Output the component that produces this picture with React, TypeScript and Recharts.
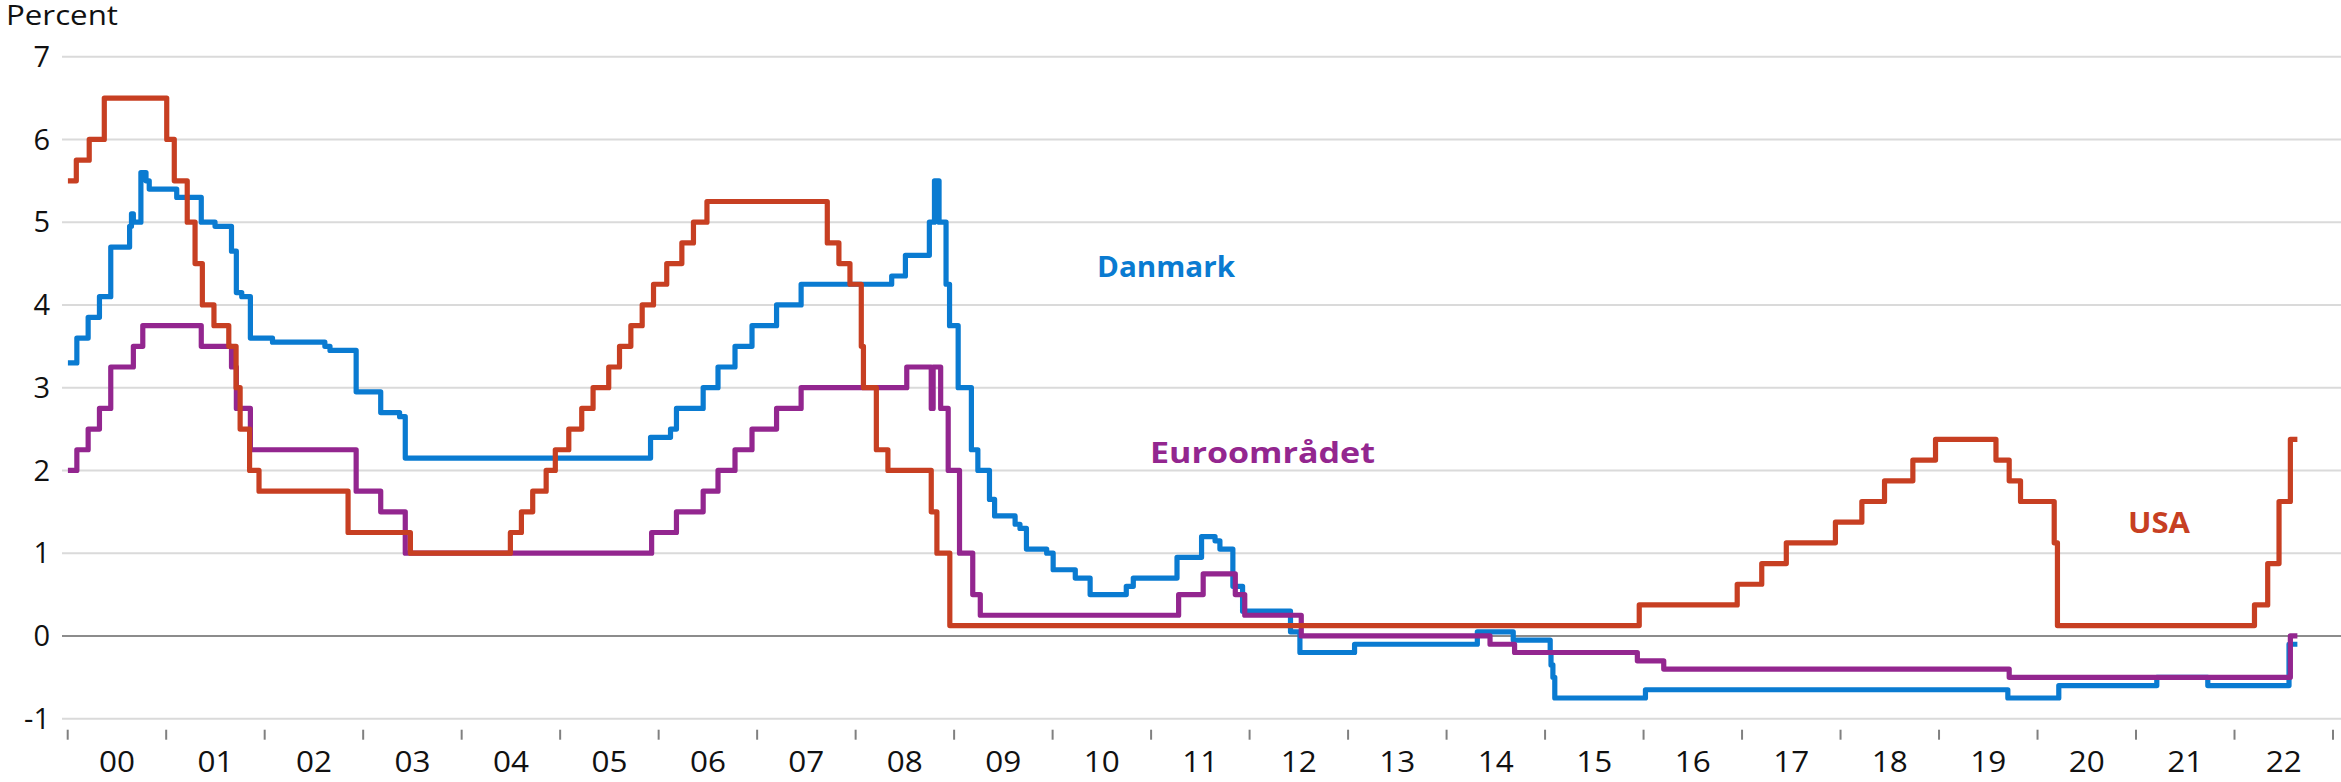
import React from "react";
import { LineChart, Line, XAxis, YAxis, CartesianGrid, ReferenceLine } from "recharts";

const FONT = "'Open Sans', 'Noto Sans', sans-serif";
const BLUE = "#0A7BD1";
const PURPLE = "#93268F";
const RED = "#C73F22";

const END_DATE = "2022-08-22";

const yearTicks = [
  2000, 2001, 2002, 2003, 2004, 2005, 2006, 2007, 2008, 2009, 2010, 2011,
  2012, 2013, 2014, 2015, 2016, 2017, 2018, 2019, 2020, 2021, 2022, 2023,
];
const yearLabels = [
  "00", "01", "02", "03", "04", "05", "06", "07", "08", "09", "10", "11",
  "12", "13", "14", "15", "16", "17", "18", "19", "20", "21", "22",
];
const percentTicks = [-1, 0, 1, 2, 3, 4, 5, 6, 7];

// rate changes: [date, rate in percent]
const danmark: [string, number][] = [
  ["2000-01-01", 3.3], ["2000-02-04", 3.6], ["2000-03-17", 3.85], ["2000-04-28", 4.1],
  ["2000-06-09", 4.7], ["2000-08-18", 4.95], ["2000-08-25", 5.1], ["2000-09-01", 5.0],
  ["2000-09-29", 5.6], ["2000-10-18", 5.5], ["2000-10-30", 5.4], ["2001-02-09", 5.3],
  ["2001-05-11", 5.0], ["2001-07-01", 4.95], ["2001-08-31", 4.65], ["2001-09-18", 4.15],
  ["2001-10-08", 4.1], ["2001-11-09", 3.6], ["2002-01-30", 3.55], ["2002-08-12", 3.5],
  ["2002-08-31", 3.45], ["2002-12-06", 2.95], ["2003-03-07", 2.7], ["2003-05-16", 2.65],
  ["2003-06-06", 2.15], ["2005-12-02", 2.4], ["2006-02-14", 2.5], ["2006-03-08", 2.75],
  ["2006-06-15", 3.0], ["2006-08-09", 3.25], ["2006-10-11", 3.5], ["2006-12-13", 3.75],
  ["2007-03-14", 4.0], ["2007-06-13", 4.25], ["2008-05-14", 4.35], ["2008-07-04", 4.6],
  ["2008-10-01", 5.0], ["2008-10-20", 5.5], ["2008-11-06", 5.0], ["2008-12-02", 4.25],
  ["2008-12-15", 3.75], ["2009-01-16", 3.0], ["2009-03-06", 2.25], ["2009-03-30", 2.0],
  ["2009-05-12", 1.65], ["2009-05-31", 1.45], ["2009-08-15", 1.35], ["2009-09-02", 1.3],
  ["2009-09-26", 1.05], ["2009-12-10", 1.0], ["2010-01-03", 0.8], ["2010-03-26", 0.7],
  ["2010-05-20", 0.5], ["2010-10-01", 0.6], ["2010-10-27", 0.7], ["2011-04-07", 0.95],
  ["2011-07-07", 1.2], ["2011-08-26", 1.15], ["2011-09-13", 1.05], ["2011-10-31", 0.6],
  ["2011-12-06", 0.3], ["2012-06-01", 0.05], ["2012-07-06", -0.2], ["2013-01-25", -0.1],
  ["2014-04-25", 0.05], ["2014-09-05", -0.05], ["2015-01-20", -0.2], ["2015-01-23", -0.35],
  ["2015-01-30", -0.5], ["2015-02-06", -0.75], ["2016-01-08", -0.65], ["2019-09-13", -0.75],
  ["2020-03-20", -0.6], ["2021-03-19", -0.5], ["2021-09-24", -0.6], ["2022-07-22", -0.1],
];

const euroomraadet: [string, number][] = [
  ["2000-01-01", 2.0], ["2000-02-04", 2.25], ["2000-03-17", 2.5], ["2000-04-28", 2.75],
  ["2000-06-09", 3.25], ["2000-09-01", 3.5], ["2000-10-06", 3.75], ["2001-05-11", 3.5],
  ["2001-08-31", 3.25], ["2001-09-18", 2.75], ["2001-11-09", 2.25], ["2002-12-06", 1.75],
  ["2003-03-07", 1.5], ["2003-06-06", 1.0], ["2005-12-06", 1.25], ["2006-03-08", 1.5],
  ["2006-06-15", 1.75], ["2006-08-09", 2.0], ["2006-10-11", 2.25], ["2006-12-13", 2.5],
  ["2007-03-14", 2.75], ["2007-06-13", 3.0], ["2008-07-09", 3.25], ["2008-10-08", 2.75],
  ["2008-10-15", 3.25], ["2008-11-12", 2.75], ["2008-12-10", 2.0], ["2009-01-21", 1.0],
  ["2009-03-11", 0.5], ["2009-04-08", 0.25], ["2011-04-13", 0.5], ["2011-07-13", 0.75],
  ["2011-11-09", 0.5], ["2011-12-14", 0.25], ["2012-07-11", 0.0], ["2014-06-11", -0.1],
  ["2014-09-10", -0.2], ["2015-12-09", -0.3], ["2016-03-16", -0.4], ["2019-09-18", -0.5],
  ["2022-07-27", 0.0],
];

const usa: [string, number][] = [
  ["2000-01-01", 5.5], ["2000-02-02", 5.75], ["2000-03-21", 6.0], ["2000-05-16", 6.5],
  ["2001-01-03", 6.0], ["2001-01-31", 5.5], ["2001-03-20", 5.0], ["2001-04-18", 4.5],
  ["2001-05-15", 4.0], ["2001-06-27", 3.75], ["2001-08-21", 3.5], ["2001-09-17", 3.0],
  ["2001-10-02", 2.5], ["2001-11-06", 2.0], ["2001-12-11", 1.75], ["2002-11-06", 1.25],
  ["2003-06-25", 1.0], ["2004-06-30", 1.25], ["2004-08-10", 1.5], ["2004-09-21", 1.75],
  ["2004-11-10", 2.0], ["2004-12-14", 2.25], ["2005-02-02", 2.5], ["2005-03-22", 2.75],
  ["2005-05-03", 3.0], ["2005-06-30", 3.25], ["2005-08-09", 3.5], ["2005-09-20", 3.75],
  ["2005-11-01", 4.0], ["2005-12-13", 4.25], ["2006-01-31", 4.5], ["2006-03-28", 4.75],
  ["2006-05-10", 5.0], ["2006-06-29", 5.25], ["2007-09-18", 4.75], ["2007-10-31", 4.5],
  ["2007-12-11", 4.25], ["2008-01-22", 3.5], ["2008-01-30", 3.0], ["2008-03-18", 2.25],
  ["2008-04-30", 2.0], ["2008-10-08", 1.5], ["2008-10-29", 1.0], ["2008-12-16", 0.125],
  ["2015-12-16", 0.375], ["2016-12-14", 0.625], ["2017-03-15", 0.875], ["2017-06-14", 1.125],
  ["2017-12-13", 1.375], ["2018-03-21", 1.625], ["2018-06-13", 1.875], ["2018-09-26", 2.125],
  ["2018-12-19", 2.375], ["2019-07-31", 2.125], ["2019-09-18", 1.875], ["2019-10-30", 1.625],
  ["2020-03-03", 1.125], ["2020-03-15", 0.125], ["2022-03-16", 0.375], ["2022-05-04", 0.875],
  ["2022-06-15", 1.625], ["2022-07-27", 2.375],
];

const toYear = (d: string) => {
  const [y, m, day] = d.split("-").map(Number);
  const start = Date.UTC(y, 0, 1);
  const next = Date.UTC(y + 1, 0, 1);
  return y + (Date.UTC(y, m - 1, day) - start) / (next - start);
};

const toSeries = (rows: [string, number][]) => {
  const pts = rows.map(([d, v]) => ({ t: toYear(d), v }));
  pts.push({ t: toYear(END_DATE), v: rows[rows.length - 1][1] });
  return pts;
};

const W = 2341;
const H = 782;
const PLOT_LEFT = 62;
const PAD_L = 5.7;
const PAD_R = 8;
const YEAR_PX = (W - PLOT_LEFT - PAD_L - PAD_R) / (yearTicks.length - 1);
const LINE_W = 5.2;

const XTick = (props: any) => {
  const { x, y, payload } = props;
  const i = yearTicks.indexOf(payload.value);
  return (
    <g>
      <line x1={x} x2={x} y1={y + 11} y2={y + 21} stroke="#808080" strokeWidth={2} />
      {i >= 0 && i < yearLabels.length && (
        <text
          x={x + YEAR_PX / 2}
          y={y + 42}
          textAnchor="middle"
          dominantBaseline="central"
          fontSize={29}
          fontFamily={FONT}
          fill="#111"
          textLength={36}
          lengthAdjust="spacingAndGlyphs"
        >
          {yearLabels[i]}
        </text>
      )}
    </g>
  );
};

export default function App() {
  const dk = toSeries(danmark);
  const eu = toSeries(euroomraadet);
  const us = toSeries(usa);
  return (
    <div style={{ position: "absolute", left: 0, top: 0, width: W, height: H, background: "#fff" }}>
      <LineChart width={W} height={H} margin={{ top: 56.7, right: 0, bottom: 0, left: 0 }}>
        <CartesianGrid horizontal vertical={false} stroke="#dadada" strokeWidth={2} />
        <XAxis
          type="number"
          dataKey="t"
          domain={[2000, 2023]}
          ticks={yearTicks}
          interval={0}
          padding={{ left: PAD_L, right: PAD_R }}
          height={63.3}
          axisLine={false}
          tickLine={false}
          tickSize={0}
          tickMargin={0}
          tick={(p: any) => <XTick {...p} />}
          allowDataOverflow
        />
        <YAxis
          type="number"
          domain={[-1, 7]}
          ticks={percentTicks}
          interval={0}
          width={PLOT_LEFT}
          axisLine={false}
          tickLine={false}
          tickSize={0}
          tickMargin={12}
          tick={{ fill: "#111", fontSize: 29, fontFamily: FONT }}
        />
        <ReferenceLine y={0} stroke="#8c8c8c" strokeWidth={2} />
        <Line data={dk} dataKey="v" type="stepAfter" stroke={BLUE} strokeWidth={LINE_W} dot={false} activeDot={false} strokeLinejoin="round" isAnimationActive={false} />
        <Line data={eu} dataKey="v" type="stepAfter" stroke={PURPLE} strokeWidth={LINE_W} dot={false} activeDot={false} strokeLinejoin="round" isAnimationActive={false} />
        <Line data={us} dataKey="v" type="stepAfter" stroke={RED} strokeWidth={LINE_W} dot={false} activeDot={false} strokeLinejoin="round" isAnimationActive={false} />
      </LineChart>
      <svg width={W} height={H} style={{ position: "absolute", left: 0, top: 0, pointerEvents: "none" }}>
        <text x={6} y={25} fontSize={27} fontFamily={FONT} fill="#111" textLength={112} lengthAdjust="spacingAndGlyphs">Percent</text>
        <text x={1097} y={277} fontSize={29} fontWeight={700} fontFamily={FONT} fill={BLUE} textLength={138} lengthAdjust="spacingAndGlyphs">Danmark</text>
        <text x={1150} y={463} fontSize={29} fontWeight={700} fontFamily={FONT} fill={PURPLE} textLength={225} lengthAdjust="spacingAndGlyphs">Euroområdet</text>
        <text x={2128} y={533} fontSize={29} fontWeight={700} fontFamily={FONT} fill={RED} textLength={62} lengthAdjust="spacingAndGlyphs">USA</text>
      </svg>
    </div>
  );
}
